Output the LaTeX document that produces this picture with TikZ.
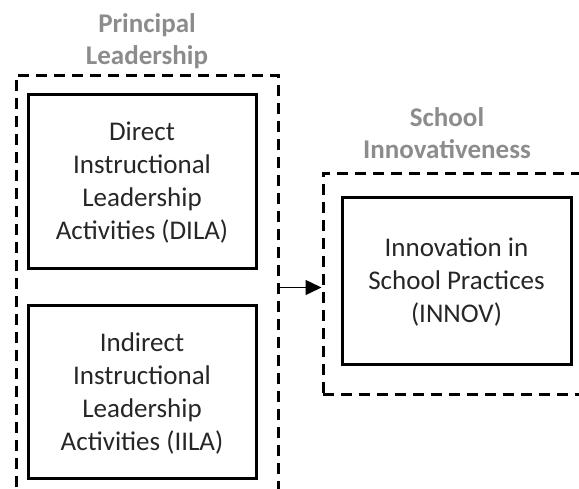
\documentclass[tikz,border=0pt]{standalone}
\usepackage{fontspec}
\setmainfont{Carlito}
\usepackage{tikz}
\usetikzlibrary{arrows.meta}

\begin{document}
\begin{tikzpicture}[x=1pt, y=-1pt,
                    frame/.style={draw, line width=3pt, dash pattern=on 11pt off 7pt},
                    var/.style={draw, line width=3pt, align=center, text depth=0pt, font=\fontsize{27}{33}\selectfont, text=black!85},
                    title/.style={align=center, text=black!45, font=\bfseries\fontsize{27}{32}\selectfont}]
                    \clip (0,0) rectangle (579,488);
                    \node[frame, minimum width=262pt, minimum height=425pt] (lead) at (147,287.5) {};
                    \node[frame, minimum width=280pt, minimum height=221pt] (innovness) at (463,283.5) {};
                    \node[title] (leadtitle) at (147,41) {Principal\\Leadership};
                    \node[title] (innovtitle) at (447,133) {School\\Innovativeness};
                    \node[var, minimum width=228pt, minimum height=174pt] (dila) at (142,181) {Direct\\Instructional\\Leadership\\Activities (DILA)};
                    \node[var, minimum width=228pt, minimum height=173pt] (iila) at (142,391.5) {Indirect\\Instructional\\Leadership\\Activities (IILA)};
                    \node[var, minimum width=229pt, minimum height=167pt] (innov) at (456.5,280.5) {Innovation in\\School Practices\\(INNOV)};
                    \draw[line width=1.4pt, -{Triangle[length=16pt, width=15pt]}] (lead.east) -- (lead.east -| innovness.west);
                \end{tikzpicture}
\end{document}
